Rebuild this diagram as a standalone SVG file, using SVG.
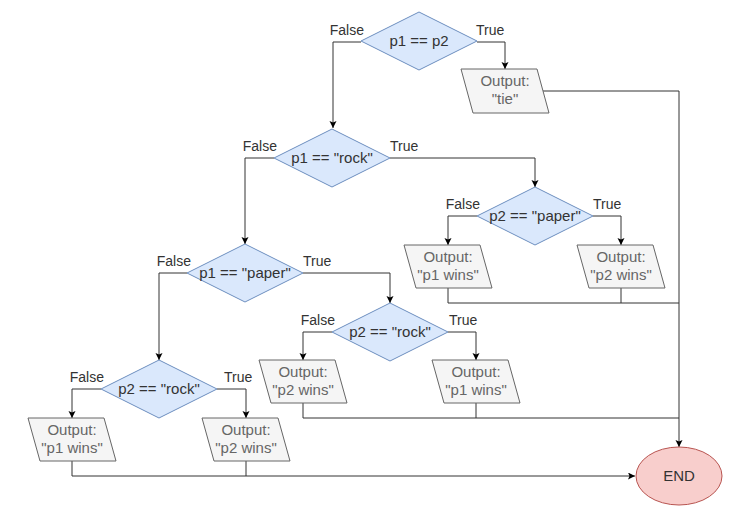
<svg xmlns="http://www.w3.org/2000/svg" width="733" height="509" viewBox="0 0 733 509">
<style>
.dec{fill:#dae8fc;stroke:#6c8ebf;stroke-width:1}
.out{fill:#f5f5f5;stroke:#666666;stroke-width:1}
.end{fill:#f8cecc;stroke:#b85450;stroke-width:1}
.t{font-family:"Liberation Sans",Arial,sans-serif;font-size:15px;fill:#333333;text-anchor:middle}
.to{font-family:"Liberation Sans",Arial,sans-serif;font-size:15px;fill:#666666;text-anchor:middle}
.lf{font-family:"Liberation Sans",Arial,sans-serif;font-size:14px;fill:#333333;text-anchor:end}
.lt{font-family:"Liberation Sans",Arial,sans-serif;font-size:14px;fill:#333333;text-anchor:start}
.c{fill:none;stroke:#333333;stroke-width:1}
.ca{fill:none;stroke:#333333;stroke-width:1;marker-end:url(#ah)}
</style>
<defs>
<marker id="ah" markerUnits="userSpaceOnUse" markerWidth="8" markerHeight="8" refX="7" refY="3.5" orient="auto">
<path d="M0,0 L7,3.5 L0,7 L1.5,3.5 z" fill="#000000"/>
</marker>
</defs>
<rect width="733" height="509" fill="#ffffff"/>
<g id="connectors">
<path class="ca" d="M361,42 H333 V128"/>
<path class="ca" d="M477,42 H505 V69"/>
<path class="ca" d="M543,91 H679 V447"/>
<path class="ca" d="M274,158 H245 V244"/>
<path class="ca" d="M390,158 H535 V187"/>
<path class="ca" d="M477,216 H448 V245"/>
<path class="ca" d="M593,216 H621 V245"/>
<path class="c" d="M448,288 V303 H679"/>
<path class="c" d="M621,288 V303"/>
<path class="ca" d="M187,273 H159 V360"/>
<path class="ca" d="M303,273 H390 V303"/>
<path class="ca" d="M332,332 H303 V360"/>
<path class="ca" d="M448,332 H476 V360"/>
<path class="c" d="M303,403 V418 H679"/>
<path class="c" d="M476,403 V418"/>
<path class="ca" d="M101,389 H72 V418"/>
<path class="ca" d="M217,389 H246 V418"/>
<path class="ca" d="M72,461 V476 H635"/>
<path class="c" d="M246,461 V476"/>
</g>
<g id="labels">
<text class="lf" x="364" y="35">False</text>
<text class="lt" x="476" y="35">True</text>
<text class="lf" x="277" y="151">False</text>
<text class="lt" x="390" y="151">True</text>
<text class="lf" x="480" y="209">False</text>
<text class="lt" x="593" y="209">True</text>
<text class="lf" x="191" y="266">False</text>
<text class="lt" x="303" y="266">True</text>
<text class="lf" x="335" y="325">False</text>
<text class="lt" x="449" y="325">True</text>
<text class="lf" x="104" y="382">False</text>
<text class="lt" x="224" y="382">True</text>
</g>
<g id="d1"><path class="dec" d="M419,12 L477,41 L419,70 L361,41 Z"/><text class="t" x="419" y="46">p1 == p2</text></g>
<g id="d2"><path class="dec" d="M332,129 L390,158 L332,187 L274,158 Z"/><text class="t" x="332" y="163">p1 == "rock"</text></g>
<g id="d3"><path class="dec" d="M535,187 L593,216 L535,245 L477,216 Z"/><text class="t" x="535" y="221">p2 == "paper"</text></g>
<g id="d4"><path class="dec" d="M245,244 L303,273 L245,302 L187,273 Z"/><text class="t" x="245" y="278">p1 == "paper"</text></g>
<g id="d5"><path class="dec" d="M390,303 L448,332 L390,361 L332,332 Z"/><text class="t" x="390" y="337">p2 == "rock"</text></g>
<g id="d6"><path class="dec" d="M159,360 L217,389 L159,418 L101,389 Z"/><text class="t" x="159" y="394">p2 == "rock"</text></g>
<g id="o_tie"><path class="out" d="M461,69 H537 L549,113 H473 Z"/><text class="to" x="505" y="86">Output:</text><text class="to" x="505" y="104">"tie"</text></g>
<g id="o_p1w_a"><path class="out" d="M404,245 H480 L492,288 H416 Z"/><text class="to" x="448" y="262">Output:</text><text class="to" x="448" y="280">"p1 wins"</text></g>
<g id="o_p2w_a"><path class="out" d="M577,245 H653 L665,288 H589 Z"/><text class="to" x="621" y="262">Output:</text><text class="to" x="621" y="280">"p2 wins"</text></g>
<g id="o_p2w_b"><path class="out" d="M259,360 H335 L347,403 H271 Z"/><text class="to" x="303" y="377">Output:</text><text class="to" x="303" y="395">"p2 wins"</text></g>
<g id="o_p1w_b"><path class="out" d="M432,360 H508 L520,403 H444 Z"/><text class="to" x="476" y="377">Output:</text><text class="to" x="476" y="395">"p1 wins"</text></g>
<g id="o_p1w_c"><path class="out" d="M28,418 H104 L116,461 H40 Z"/><text class="to" x="72" y="435">Output:</text><text class="to" x="72" y="453">"p1 wins"</text></g>
<g id="o_p2w_c"><path class="out" d="M202,418 H278 L290,461 H214 Z"/><text class="to" x="246" y="435">Output:</text><text class="to" x="246" y="453">"p2 wins"</text></g>
<g id="end"><ellipse class="end" cx="679" cy="476" rx="43" ry="29"/><text class="t" x="679" y="481">END</text></g>
</svg>
